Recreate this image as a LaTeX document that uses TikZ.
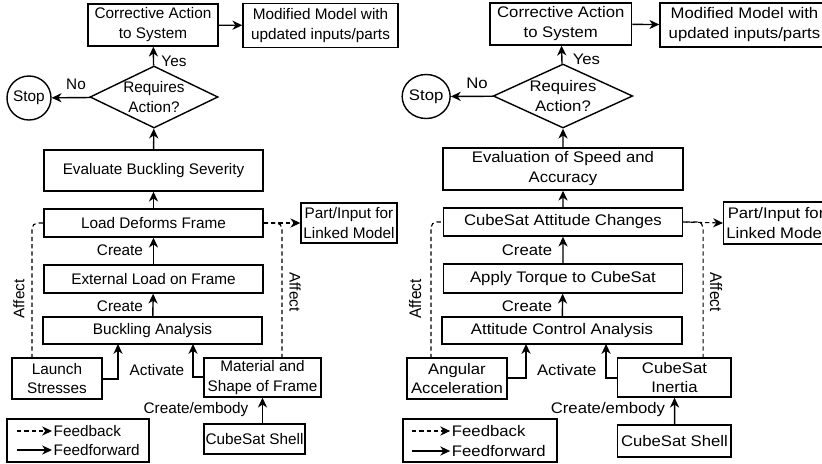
\documentclass[tikz,border=0pt]{standalone}
\usepackage{fontspec}
\setmainfont{Liberation Sans}
\usetikzlibrary{shapes.geometric,arrows.meta}

\begin{document}
\begin{tikzpicture}[x=0.025cm, y=-0.025cm]
	\tikzset{every node/.style={font=\fontsize{10.9}{14.2}\selectfont}}
	\tikzset{blk/.style={draw, line width=1pt, align=center, inner sep=0pt}}
	\tikzset{dec/.style={blk, diamond, aspect=2}}
	\tikzset{ff/.style={line width=1pt, -{Stealth[length=7pt,width=6.5pt,inset=2.2pt]}}}
	\tikzset{fb/.style={line width=0.8pt, dash pattern=on 3pt off 2.2pt}}
	\tikzset{fba/.style={fb, -{Stealth[length=7pt,width=6.5pt,inset=2.2pt]}}}

	\useasboundingbox (0,0) rectangle (822,463);
	\clip (0,0) rectangle (822,463);

	% buckling model
	\begin{scope}
		\node[blk, minimum width=3.25cm, minimum height=1.05cm] (ca) at (153,25) {Corrective Action\\to System};
		\node[blk, minimum width=3.875cm, minimum height=1.1cm] (mm) at (320.5,25.5) {Modified Model with\\updated inputs/parts};
		\node[dec, minimum width=3.2cm, minimum height=1.55cm] (ra) at (154,97) {Requires\\Action?};
		\node[blk, circle, minimum size=1.1cm] (stop) at (29,98) {Stop};
		\node[blk, minimum width=5.475cm, minimum height=1.025cm] (ebs) at (153.5,170.5) {Evaluate Buckling Severity};
		\node[blk, minimum width=5.475cm, minimum height=0.7cm] (ldf) at (153.5,223) {Load Deforms Frame};
		\node[blk, minimum width=5.475cm, minimum height=0.7cm] (elf) at (153.5,279) {External Load on Frame};
		\node[blk, minimum width=5.475cm, minimum height=0.675cm] (bla) at (152.5,330.5) {Buckling Analysis};
		\node[blk, minimum width=2.25cm, minimum height=1.025cm] (ls) at (57,378.5) {Launch\\Stresses};
		\node[blk, minimum width=2.925cm, minimum height=0.975cm] (msf) at (262.5,377.5) {Material and\\Shape of Frame};
		\node[blk, minimum width=2.525cm, minimum height=0.75cm] (cs) at (254.5,439) {CubeSat Shell};
		\node[blk, minimum width=2.4cm, minimum height=1.0cm] (pil) at (349,223) {Part/Input for\\Linked Model};
		\node[blk, minimum width=3.55cm, minimum height=1.075cm] (lg) at (78,440.5) {};

		\node (yes) at (174,61) {Yes};
		\node (no) at (76,84) {No};
		\node (cr1) at (120,250) {Create};
		\node (cr2) at (120,306) {Create};
		\node (act) at (157,370) {Activate};
		\node (emb) at (196,410) {Create/embody};
		\node[rotate=90] (af1) at (19,299) {Affect};
		\node[rotate=-90] (af2) at (295,292) {Affect};

		\coordinate (b1) at (118,344);
		\coordinate (b2) at (193,344);
		\coordinate (d1) at (32,358);
		\coordinate (d2) at (282,358);

		\draw[ff] (ebs) -- (ra);
		\draw[ff] (ra) -- (ca);
		\draw[ff] (ra) -- (stop);
		\draw[ff] (ca) -- (mm);
		\draw[ff] (ldf) -- (ebs);
		\draw[ff] (elf) -- (ldf);
		\draw[ff] (bla) -- (elf);
		\draw[ff] (ls.east |- 0,379) -| (b1);
		\draw[ff] (msf.west |- 0,377) -| (b2);
		\draw[ff] (msf.south |- cs.north) -- (msf.south);
		\draw[fb, rounded corners=4pt] (d1) |- (ldf.west);
		\draw[fb, rounded corners=4pt] (d2) |- (ldf.east);
		\draw[fba] (ldf.east) -- (pil.west);

		% legend
		\coordinate (k1) at (17,431);
		\coordinate (k2) at (52,431);
		\coordinate (k3) at (17,450);
		\coordinate (k4) at (52,450);
		\draw[fba] (k1) -- (k2);
		\draw[ff] (k3) -- (k4);
		\node[anchor=west, inner sep=1pt] (fbt) at (k2) {Feedback};
		\node[anchor=west, inner sep=1pt] (fft) at (k4) {Feedforward};
	\end{scope}

	% attitude model
	\begin{scope}[shift={(400,0)}, xscale=1.09, transform shape]
		\node[blk, minimum width=3.25cm, minimum height=1.05cm] (ca) at (147.5,24) {Corrective Action\\to System};
		\node[blk, minimum width=3.875cm, minimum height=1.1cm] (mm) at (316,25) {Modified Model with\\updated inputs/parts};
		\node[dec, minimum width=3.2cm, minimum height=1.6cm] (ra) at (149.5,96) {Requires\\Action?};
		\node[blk, circle, minimum size=1.1cm] (stop) at (24,96.5) {Stop};
		\node[blk, minimum width=5.5cm, minimum height=1.05cm] (ev) at (149.5,169) {Evaluation of Speed and\\Accuracy};
		\node[blk, minimum width=5.475cm, minimum height=0.7cm] (cac) at (149.5,222) {CubeSat Attitude Changes};
		\node[blk, minimum width=5.475cm, minimum height=0.725cm] (atc) at (149.5,278.5) {Apply Torque to CubeSat};
		\node[blk, minimum width=5.5cm, minimum height=0.675cm] (aca) at (148.6,330.5) {Attitude Control Analysis};
		\node[blk, minimum width=2.3cm, minimum height=1.025cm] (aa) at (52.3,378.5) {Angular\\Acceleration};
		\node[blk, minimum width=2.6cm, minimum height=0.975cm] (ci) at (251.8,377.5) {CubeSat\\Inertia};
		\node[blk, minimum width=2.6cm, minimum height=0.8cm] (cs) at (251.8,441) {CubeSat Shell};
		\node[blk, minimum width=2.4cm, minimum height=1.05cm] (pil) at (345,223) {Part/Input for\\Linked Model};
		\node[blk, minimum width=3.525cm, minimum height=1.075cm] (lg) at (73.4,440.5) {};

		\node (yes) at (171,59) {Yes};
		\node (no) at (70.6,83) {No};
		\node (cr1) at (116.5,250) {Create};
		\node (cr2) at (116.5,306) {Create};
		\node (act) at (153,370) {Activate};
		\node (emb) at (190.8,410) {Create/embody};
		\node[rotate=90] (af1) at (13.8,299) {Affect};
		\node[rotate=-90] (af2) at (290,292) {Affect};

		\coordinate (b1) at (115.6,344);
		\coordinate (b2) at (189,344);
		\coordinate (d1) at (28.4,358);
		\coordinate (d2) at (278,358);

		\draw[ff] (ev) -- (ra);
		\draw[ff] (ra) -- (ca);
		\draw[ff] (ra) -- (stop);
		\draw[ff] (ca) -- (mm);
		\draw[ff] (cac) -- (ev);
		\draw[ff] (atc) -- (cac);
		\draw[ff] (aca) -- (atc);
		\draw[ff] (aa.east |- 0,378) -| (b1);
		\draw[ff] (ci.west |- 0,378) -| (b2);
		\draw[ff] (cs) -- (ci);
		\draw[fb, rounded corners=4pt] (d1) |- (cac.west);
		\draw[fb, rounded corners=4pt] (d2) |- (cac.east);
		\draw[fba] (cac.east) -- (pil.west);

		% legend
		\coordinate (k1) at (11,431);
		\coordinate (k2) at (46,431);
		\coordinate (k3) at (11,451);
		\coordinate (k4) at (46,451);
		\draw[fba] (k1) -- (k2);
		\draw[ff] (k3) -- (k4);
		\node[anchor=west, inner sep=1pt] (fbt) at (k2) {Feedback};
		\node[anchor=west, inner sep=1pt] (fft) at (k4) {Feedforward};
	\end{scope}
\end{tikzpicture}
\end{document}
